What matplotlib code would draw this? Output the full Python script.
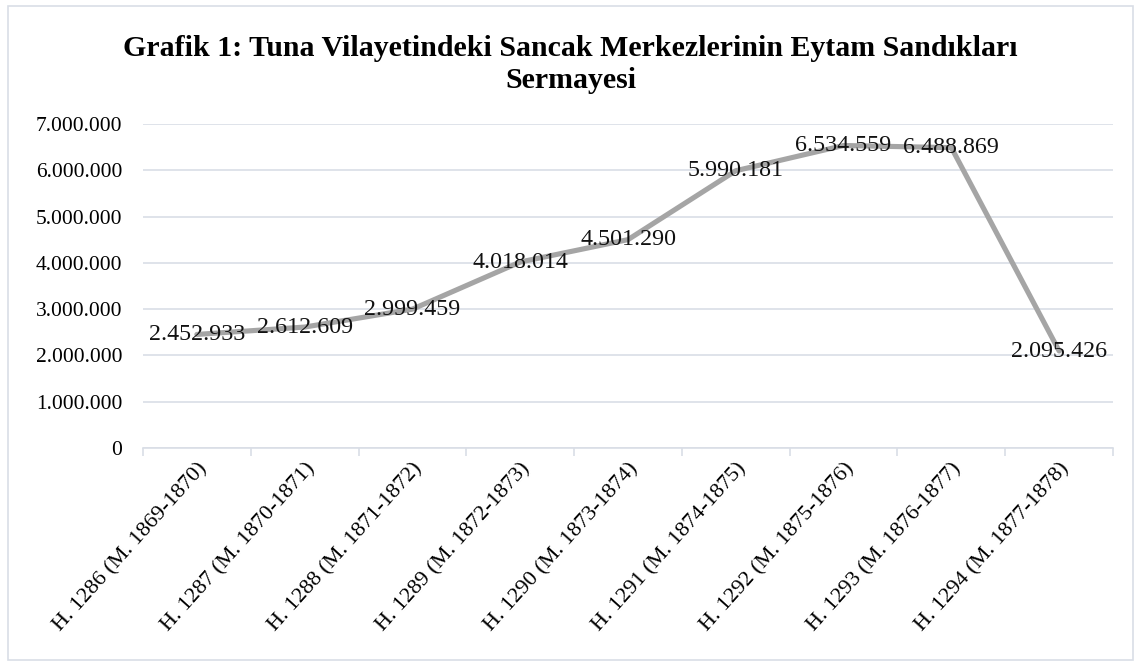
import numpy as np
import matplotlib.pyplot as plt
from matplotlib.patches import Rectangle
from matplotlib.ticker import FuncFormatter, FixedLocator

plt.rcParams['font.family'] = ['Liberation Serif', 'DejaVu Serif']

title = "Grafik 1: Tuna Vilayetindeki Sancak Merkezlerinin Eytam Sandıkları\nSermayesi"
categories = [
    "H. 1286 (M. 1869-1870)",
    "H. 1287 (M. 1870-1871)",
    "H. 1288 (M. 1871-1872)",
    "H. 1289 (M. 1872-1873)",
    "H. 1290 (M. 1873-1874)",
    "H. 1291 (M. 1874-1875)",
    "H. 1292 (M. 1875-1876)",
    "H. 1293 (M. 1876-1877)",
    "H. 1294 (M. 1877-1878)",
]
values = [2452933, 2612609, 2999459, 4018014, 4501290, 5990181, 6534559, 6488869, 2095426]


def dotted(v, pos=None):
    return f"{int(v):,}".replace(",", ".")


fig = plt.figure(figsize=(11.41, 6.64), dpi=100)
ax = fig.add_axes([0.1253, 0.3253, 0.8502, 0.488])

x = np.arange(len(categories))
grid_col = '#D9DEE6'

ax.set_ylim(0, 7000000)
ax.set_xlim(-0.5, len(categories) - 0.5)

ax.plot(x, values, color='#A5A5A5', lw=3.7, solid_joinstyle='round',
        solid_capstyle='round', zorder=3)

for xi, v in zip(x, values):
    ax.text(xi, v, dotted(v), ha='center', va='center', fontsize=17.3,
            color='#111111', zorder=4)

ax.yaxis.set_major_locator(FixedLocator(np.arange(0, 7000001, 1000000)))
ax.yaxis.set_major_formatter(FuncFormatter(dotted))
ax.grid(axis='y', color=grid_col, lw=1.2)
ax.set_axisbelow(True)

ax.set_xticks(x)
ax.set_xticklabels(categories, rotation=48, ha='right', rotation_mode='anchor',
                   fontsize=16)
ax.set_xticks(np.arange(-0.5, len(categories), 1), minor=True)
ax.tick_params(axis='x', which='major', length=0, pad=8)
ax.tick_params(axis='x', which='minor', length=6, color=grid_col, width=1.2)
ax.tick_params(axis='y', length=0, labelsize=15.5, pad=15)

for s in ['top', 'right', 'left']:
    ax.spines[s].set_visible(False)
ax.spines['bottom'].set_color(grid_col)
ax.spines['bottom'].set_linewidth(1.2)

fig.text(0.5, 0.903, title, ha='center', va='center', fontsize=21.5,
         fontweight='bold', linespacing=1.25)

fig.patches.append(Rectangle((8 / 1141, 4 / 664), 1125 / 1141, 654 / 664,
                             transform=fig.transFigure, fill=False,
                             edgecolor=grid_col, lw=1.2))

fig.savefig('out.png', dpi=100)
